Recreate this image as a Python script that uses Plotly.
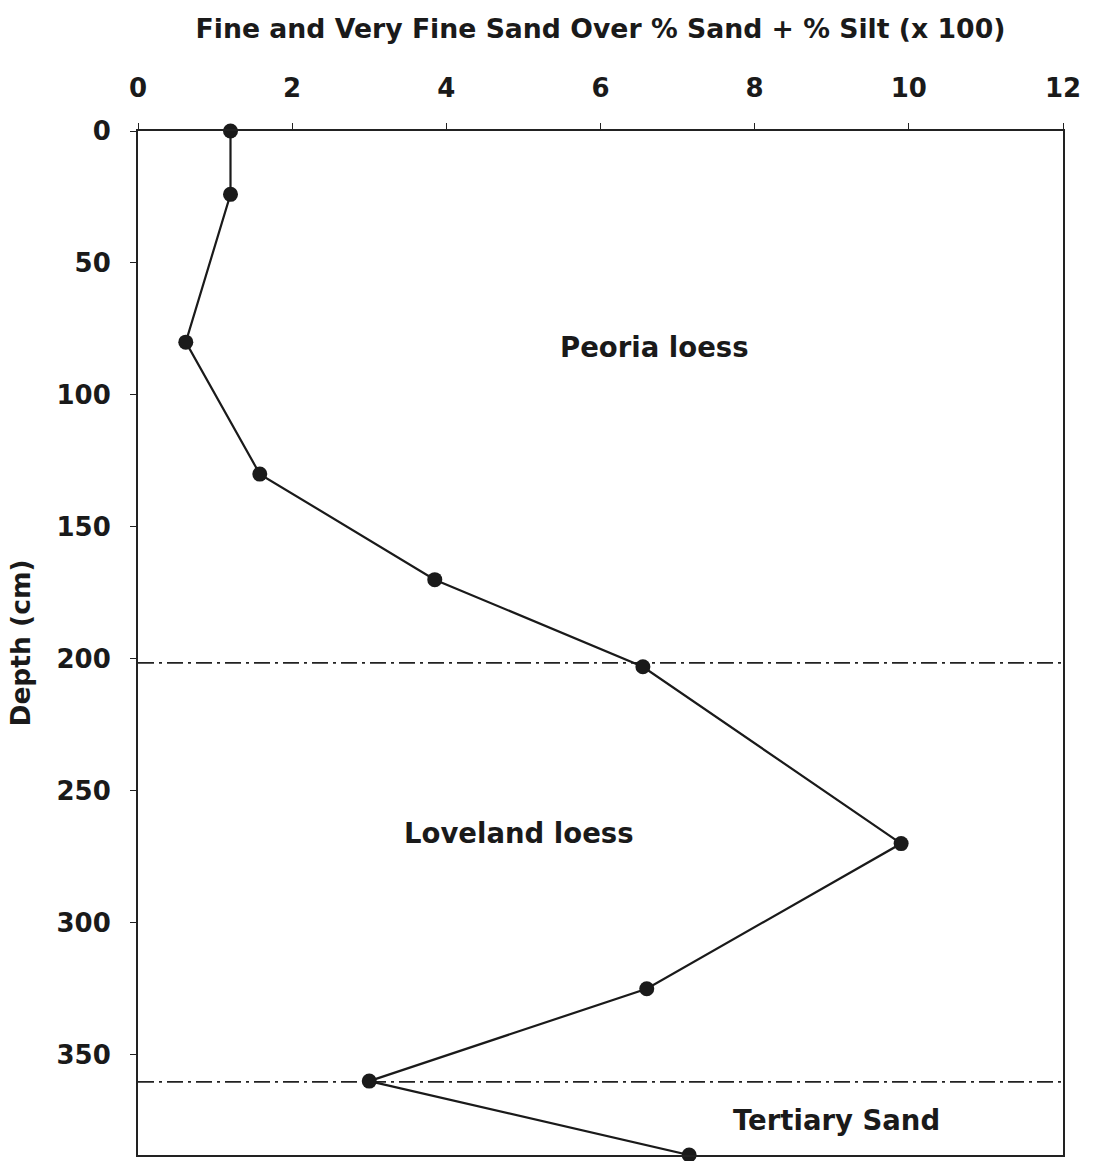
import plotly.graph_objects as go

# Data
ratio = [1.2, 1.2, 0.62, 1.58, 3.85, 6.55, 9.9, 6.6, 3.0, 7.15]
depth = [0, 24, 80, 130, 170, 203, 270, 325, 360, 388]
boundaries = [201.5, 360.3]
unit_labels = ["Peoria loess", "Loveland loess", "Tertiary Sand"]
unit_x = [6.7, 4.94, 9.06]
unit_y = [82, 266, 374.7]
x_ticks = [0, 2, 4, 6, 8, 10, 12]
y_ticks = [0, 50, 100, 150, 200, 250, 300, 350]

FONT = "DejaVu Sans, Arial, sans-serif"

fig = go.Figure()

for b in boundaries:
    fig.add_trace(go.Scatter(
        x=[0, 12], y=[b, b], mode="lines",
        line=dict(color="#222", width=1.7, dash="16px,5px,3px,5px"),
        hoverinfo="skip", showlegend=False,
    ))

fig.add_trace(go.Scatter(
    x=ratio, y=depth, mode="lines+markers",
    line=dict(color="#1a1a1a", width=2.2),
    marker=dict(color="#1a1a1a", size=15),
    showlegend=False, cliponaxis=False,
))

for t, x, y in zip(unit_labels, unit_x, unit_y):
    fig.add_annotation(x=x, y=y, text=t, showarrow=False,
                       font=dict(family=FONT, size=27.5, color="#1a1a1a", weight="bold"))

fig.update_layout(
    width=1094, height=1161,
    margin=dict(l=138, r=31, t=131, b=4),
    paper_bgcolor="white", plot_bgcolor="white",
    font=dict(family=FONT, color="#1a1a1a", weight="bold"),
)

fig.update_xaxes(
    range=[0, 12], side="top", tickvals=x_ticks,
    ticks="outside", ticklen=6, tickwidth=1, tickcolor="#222",
    tickfont=dict(family=FONT, size=26, weight="bold"),
    ticklabelstandoff=16,
    showgrid=False, zeroline=False,
    showline=True, linecolor="#222", linewidth=2, mirror=True,
    title=dict(text="Fine and Very Fine Sand Over % Sand + % Silt (x 100)",
               font=dict(family=FONT, size=26.7, weight="bold"), standoff=26),
)
fig.update_yaxes(
    range=[388, 0], tickvals=y_ticks,
    ticks="outside", ticklen=6, tickwidth=1, tickcolor="#222",
    tickfont=dict(family=FONT, size=26, weight="bold"),
    ticklabelstandoff=14,
    showgrid=False, zeroline=False,
    showline=True, linecolor="#222", linewidth=2, mirror=True,
    title=dict(text="Depth (cm)", font=dict(family=FONT, size=26.5, weight="bold"), standoff=18),
)

fig.write_html("out.html")
